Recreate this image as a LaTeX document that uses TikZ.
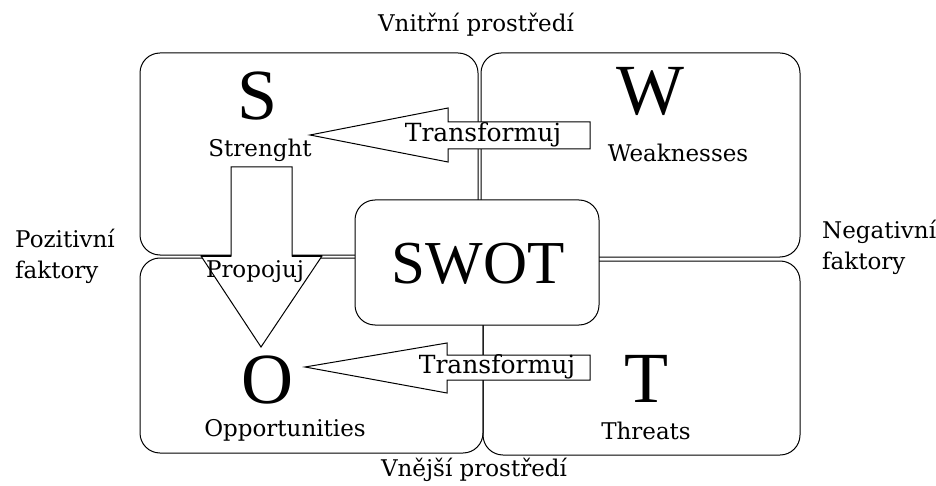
\documentclass[tikz,border=0pt]{standalone}
\usepackage{fontspec}
\setmainfont{DejaVu Serif}
\newfontfamily\bigf{Liberation Serif}
\begin{document}
\begin{tikzpicture}[x=1pt,y=-1pt,
  quad/.style={draw=black,line width=1pt,rounded corners=20pt},
  arr/.style={draw=black,fill=white,line width=1pt,line join=miter},
  big/.style={font=\bigf\fontsize{72}{72}\selectfont,inner sep=0pt},
  lab/.style={font=\fontsize{23}{26}\selectfont,inner sep=0pt},
  trl/.style={font=\fontsize{25}{28}\selectfont,inner sep=0pt},
  side/.style={font=\fontsize{23}{31}\selectfont,inner sep=0pt,align=left,anchor=west}]
\useasboundingbox (0,0) rectangle (936,486);
% quadrants
\draw[quad] (140,53) rectangle (478,255);
\draw[quad] (481,53) rectangle (800,257);
\draw[quad] (140,258) rectangle (483,453);
\draw[quad] (483,261) rectangle (800,455);
% centre box
\node[quad,fill=white,minimum width=244pt,minimum height=125pt,inner sep=0pt] (swot) at (477,262.5) {};
\node[font=\bigf\fontsize{61}{61}\selectfont,inner sep=0pt] (swott) at (478,264) {SWOT};
% arrows
\draw[arr] (310,135) -- (448,108) -- (448,122) -- (590,122) -- (590,149) -- (448,149) -- (448,162) -- cycle;
\node[trl] (tr1) at (483,135) {Transformuj};
\draw[arr] (305,367) -- (447,343) -- (447,355) -- (590,355) -- (590,380) -- (447,380) -- (447,393) -- cycle;
\node[trl] (tr2) at (497,367) {Transformuj};
\draw[arr] (231,167) -- (292,167) -- (292,256) -- (322,256) -- (261,347) -- (201,256) -- (231,256) -- cycle;
\draw[line width=2.5pt] (201,256) -- (231,256) (292,256) -- (322,256);
\node[lab] (prop) at (255,272) {Propojuj};
% letters
\node[big] (S) at (258,96) {S};
\node[big] (W) at (650,91) {W};
\node[big] (O) at (267,380) {O};
\node[big] (T) at (646,379) {T};
\node[lab] (s1) at (260,150) {Strenght};
\node[lab] (w1) at (678,153) {Weaknesses};
\node[lab] (o1) at (285,430) {Opportunities};
\node[lab] (t1) at (646,431) {Threats};
% outer labels
\node[lab] (top) at (476,25) {Vnitřní prostředí};
\node[lab] (bot) at (474,470) {Vnější prostředí};
\node[side] (pos) at (15,256) {Pozitivní\\faktory};
\node[side] (neg) at (822,247) {Negativní\\faktory};
\end{tikzpicture}
\end{document}
